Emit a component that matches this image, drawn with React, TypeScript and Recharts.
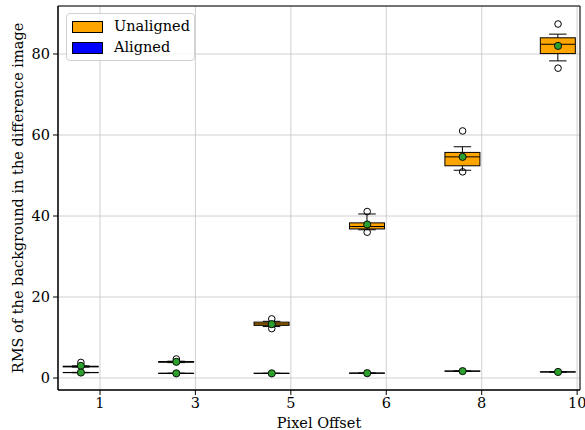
import React from 'react';
import {
  ComposedChart,
  Bar,
  Scatter,
  XAxis,
  YAxis,
  CartesianGrid,
  Legend,
  ReferenceArea,
} from 'recharts';

// ---- data ----
const offsetLabels = ['1', '3', '5', '6', '8', '10'];
const tickPositions = [1, 2, 3, 4, 5, 6];
const boxPositions = [0.8, 1.8, 2.8, 3.8, 4.8, 5.8];

const unalignedQ1 = [2.75, 3.9, 13.0, 36.8, 52.4, 80.1];
const unalignedMedian = [2.85, 4.0, 13.35, 37.4, 54.6, 82.4];
const unalignedQ3 = [2.9, 4.05, 13.8, 38.3, 55.7, 84.0];
const unalignedWhiskerLow = [2.7, 3.8, 12.7, 36.6, 51.3, 78.3];
const unalignedWhiskerHigh = [3.0, 4.15, 14.0, 40.5, 57.1, 84.9];
const unalignedMean = [3.0, 4.0, 13.3, 37.9, 54.6, 82.0];
const unalignedOutliers = [[3.85], [4.7], [14.6, 12.2], [41.1, 36.0], [61.0, 50.9], [87.4, 76.5]];

const alignedQ1 = [1.33, 1.13, 1.13, 1.18, 1.68, 1.48];
const alignedMedian = [1.35, 1.15, 1.15, 1.2, 1.7, 1.5];
const alignedQ3 = [1.37, 1.17, 1.17, 1.22, 1.72, 1.52];
const alignedWhiskerLow = [1.31, 1.11, 1.11, 1.16, 1.66, 1.46];
const alignedWhiskerHigh = [1.39, 1.19, 1.19, 1.24, 1.74, 1.54];
const alignedMean = [1.35, 1.15, 1.15, 1.2, 1.7, 1.5];

const yTicks = [0, 20, 40, 60, 80];
const xDomain = [0.56, 6.03];
const yDomain = [-2.96, 91.85];

const FONT = '"DejaVu Serif", serif';
const ORANGE = '#FFA500';
const BLUE = '#0000FF';
const GREEN = '#2ca02c';

type Stats = { q1: number; med: number; q3: number; lo: number; hi: number };

const rows = boxPositions.map((pos, i) => {
  const u: Stats = {
    q1: unalignedQ1[i],
    med: unalignedMedian[i],
    q3: unalignedQ3[i],
    lo: unalignedWhiskerLow[i],
    hi: unalignedWhiskerHigh[i],
  };
  const a: Stats = {
    q1: alignedQ1[i],
    med: alignedMedian[i],
    q3: alignedQ3[i],
    lo: alignedWhiskerLow[i],
    hi: alignedWhiskerHigh[i],
  };
  const all = [u.lo, u.hi, a.lo, a.hi, ...unalignedOutliers[i]];
  return { pos, range: [Math.min(...all), Math.max(...all)], u, a };
});

const outlierPoints = boxPositions.flatMap((pos, i) =>
  unalignedOutliers[i].map((v) => ({ pos, v }))
);
const unalignedMeanPoints = boxPositions.map((pos, i) => ({ pos, v: unalignedMean[i] }));
const alignedMeanPoints = boxPositions.map((pos, i) => ({ pos, v: alignedMean[i] }));

const BoxShape = (props: any) => {
  const { x, y, width, height, payload } = props;
  if (x == null || y == null) return null;
  const top = Math.min(y, y + height);
  const bot = Math.max(y, y + height);
  const [lo, hi] = payload.range;
  const py = (v: number) => bot - ((v - lo) / (hi - lo)) * (bot - top);
  const cx = x + width / 2;
  const cap = width / 4;
  const draw = (s: Stats, fill: string, key: string) => (
    <g key={key}>
      <line x1={cx} x2={cx} y1={py(s.q1)} y2={py(s.lo)} stroke="#000" strokeWidth={1} />
      <line x1={cx} x2={cx} y1={py(s.q3)} y2={py(s.hi)} stroke="#000" strokeWidth={1} />
      <line x1={cx - cap} x2={cx + cap} y1={py(s.lo)} y2={py(s.lo)} stroke="#000" strokeWidth={1} />
      <line x1={cx - cap} x2={cx + cap} y1={py(s.hi)} y2={py(s.hi)} stroke="#000" strokeWidth={1} />
      <rect
        x={x}
        y={py(s.q3)}
        width={width}
        height={Math.max(py(s.q1) - py(s.q3), 0.01)}
        fill={fill}
        stroke="#000"
        strokeWidth={1}
      />
      <line x1={x} x2={x + width} y1={py(s.med)} y2={py(s.med)} stroke="#000" strokeWidth={1} />
    </g>
  );
  return (
    <g>
      {draw(payload.u, ORANGE, 'u')}
      {draw(payload.a, BLUE, 'a')}
    </g>
  );
};

const OutlierShape = (props: any) => {
  const { cx, cy } = props;
  if (cx == null || cy == null) return null;
  return <circle cx={cx} cy={cy} r={3.3} fill="none" stroke="#000" strokeWidth={1} />;
};

const MeanShape = (props: any) => {
  const { cx, cy } = props;
  if (cx == null || cy == null) return null;
  return <circle cx={cx} cy={cy} r={3.6} fill={GREEN} stroke="#000" strokeWidth={0.9} />;
};

const legendItems = [
  { label: 'Unaligned', color: ORANGE },
  { label: 'Aligned', color: BLUE },
];

const LegendContent = () => (
  <div
    style={{
      position: 'relative',
      width: 129,
      height: 48,
      boxSizing: 'border-box',
      border: '1px solid #d0d0d0',
      borderRadius: 4,
      background: 'rgba(255,255,255,0.8)',
      fontFamily: FONT,
      fontSize: 14.5,
      color: '#000',
    }}
  >
    {legendItems.map((it, i) => (
      <div key={it.label}>
        <div
          style={{
            position: 'absolute',
            left: 5,
            top: 7 + i * 21,
            width: 29,
            height: 10,
            background: it.color,
            border: '1px solid #000',
          }}
        />
        <div
          style={{
            position: 'absolute',
            left: 47,
            top: 3 + i * 21,
            lineHeight: '18px',
            whiteSpace: 'nowrap',
          }}
        >
          {it.label}
        </div>
      </div>
    ))}
  </div>
);

export default function App() {
  return (
    <div style={{ position: 'absolute', left: 0, top: 0 }}>
      <ComposedChart
        width={585}
        height={430}
        data={rows}
        margin={{ top: 6, right: 5, bottom: 0, left: 0 }}
        style={{ fontFamily: FONT }}
      >
        <CartesianGrid stroke="#c4c4c4" strokeWidth={0.8} />
        <XAxis
          dataKey="pos"
          type="number"
          domain={xDomain}
          ticks={tickPositions}
          allowDataOverflow
          tickFormatter={(v: number) => offsetLabels[v - 1]}
          height={40}
          tickSize={5}
          tickMargin={3}
          stroke="#000"
          tick={{ fill: '#000', fontSize: 14.5, fontFamily: FONT }}
          label={{
            value: 'Pixel Offset',
            position: 'insideBottom',
            offset: 2,
            fill: '#000',
            fontSize: 14.5,
            fontFamily: FONT,
          }}
        />
        <YAxis
          type="number"
          domain={yDomain}
          ticks={yTicks}
          allowDataOverflow
          width={58}
          tickSize={5}
          tickMargin={3}
          stroke="#000"
          tick={{ fill: '#000', fontSize: 14.5, fontFamily: FONT }}
          label={{
            value: 'RMS of the background in the difference image',
            angle: -90,
            position: 'center',
            dx: -11,
            fill: '#000',
            fontSize: 14.5,
            fontFamily: FONT,
          }}
        />
        <Bar dataKey="range" barSize={35} shape={BoxShape} isAnimationActive={false} />
        <Scatter data={outlierPoints} dataKey="v" shape={OutlierShape} isAnimationActive={false} />
        <Scatter data={unalignedMeanPoints} dataKey="v" shape={MeanShape} isAnimationActive={false} />
        <Scatter data={alignedMeanPoints} dataKey="v" shape={MeanShape} isAnimationActive={false} />
        <ReferenceArea
          x1={xDomain[0]}
          x2={xDomain[1]}
          y1={yDomain[0]}
          y2={yDomain[1]}
          fill="none"
          stroke="#000"
          strokeWidth={1}
          ifOverflow="visible"
        />
        <Legend
          layout="vertical"
          align="center"
          verticalAlign="middle"
          content={LegendContent}
          wrapperStyle={{ position: 'absolute', left: 66, top: 13, width: 129, height: 48 }}
        />
      </ComposedChart>
    </div>
  );
}
